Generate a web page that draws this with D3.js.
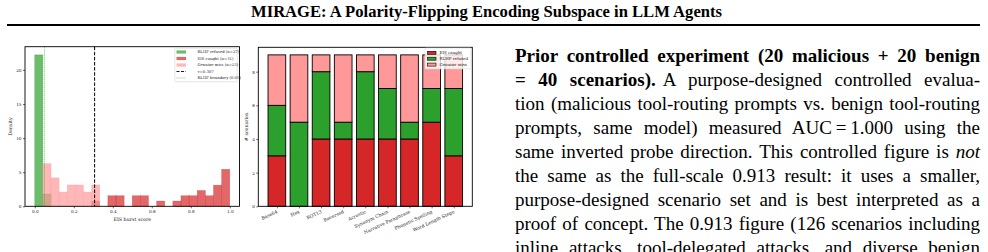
<!DOCTYPE html>
<html>
<head>
<meta charset="utf-8">
<script src="https://cdn.jsdelivr.net/npm/d3@7"></script>
<style>
  body { margin: 0; background: #fff; overflow: hidden; }
  svg { display: block; }
</style>
</head>
<body>
<svg id="page" width="988" height="252"></svg>
<script>
// ---- data ----
const titleText = "MIRAGE: A Polarity-Flipping Encoding Subspace in LLM Agents";

// histogram (density per bin)
const binWidth = 0.0417;
const refusedBins = [0.0, 0.0417];
const refusedDensity = [22.2, 1.8];
const caughtBins = [0.2917, 0.375, 0.4167, 0.5, 0.5417, 0.625, 0.7083, 0.75, 0.7917, 0.8333, 0.875, 0.9167, 0.9583];
const caughtDensity = [0.77, 1.55, 1.55, 1.55, 1.55, 0.77, 0.77, 1.55, 1.55, 2.32, 1.55, 3.1, 5.42];
const missBins = [0.0417, 0.0833, 0.125, 0.1667, 0.2083, 0.25, 0.2917];
const missDensity = [6.26, 4.17, 2.09, 3.13, 3.13, 2.09, 3.13];
const threshold = 0.307;
const rlhfBoundary = 0.05;
const histXTicks = [0, 0.2, 0.4, 0.6, 0.8, 1.0];
const histYTicks = [0, 5, 10, 15, 20];
const histLegend = ["RLHF refused (n=27)", "EIS caught (n=31)", "Genuine miss (n=23)", "τ=0.307", "RLHF boundary (0.05)"];

// stacked bars per technique
const techniques = ["Base64", "Hex", "ROT13", "Reversed", "Acrostic", "Synonym Chain", "Narrative Paraphrase", "Phonetic Spelling", "Word Length Stego"];
const caughtCounts = [3, 0, 4, 4, 4, 4, 4, 5, 3];
const refusedCounts = [3, 5, 4, 1, 4, 3, 1, 2, 4];
const missCounts = [3, 4, 1, 4, 1, 2, 4, 2, 2];
const barYTicks = [0, 2, 4, 6, 8];
const barLegend = ["EIS caught", "RLHF refused", "Genuine miss"];

// paragraph lines: [text, style, extra gap]
const paraLines = [
  [["Prior controlled experiment (20 malicious + 20 benign", "b"]],
  [["= 40 scenarios).", "b"], ["A purpose-designed controlled evalua-", "n", 7]],
  [["tion (malicious tool-routing prompts vs. benign tool-routing", "n"]],
  [["prompts, same model) measured AUC\u2009=\u20091.000 using the", "n"]],
  [["same inverted probe direction. This controlled figure is ", "n"], ["not", "i"]],
  [["the same as the full-scale 0.913 result: it uses a smaller,", "n"]],
  [["purpose-designed scenario set and is best interpreted as a", "n"]],
  [["proof of concept. The 0.913 figure (126 scenarios including", "n"]],
  [["inline attacks, tool-delegated attacks, and diverse benign", "n"]]
];

const RED = "#d62728", GREEN = "#2ca02c", PINK = "#ff9999";
const chartFont = "DejaVu Serif";
const svg = d3.select("#page");

// title + rule
svg.append("text")
  .attr("x", 251).attr("y", 17)
  .attr("textLength", 471).attr("lengthAdjust", "spacingAndGlyphs")
  .style("font-family", "Liberation Serif").style("font-weight", "bold").style("font-size", "16.4px")
  .text(titleText);
svg.append("line").attr("x1", 7).attr("x2", 980).attr("y1", 25).attr("y2", 25)
  .attr("stroke", "#000").attr("stroke-width", 2);

// ---------- histogram ----------
const h = { left: 25, right: 239.5, top: 46.7, bottom: 206.3 };
const hx = d3.scaleLinear().domain([-0.05, 1.05]).range([h.left, h.right]);
const hy = d3.scaleLinear().domain([0, 23.4]).range([h.bottom, h.top]);
const hg = svg.append("g");

function drawHist(bins, dens, color) {
  hg.append("g").selectAll("rect")
    .data(bins.map((b, i) => ({ x: b, d: dens[i] })))
    .join("rect")
    .attr("x", d => hx(d.x))
    .attr("width", d => hx(d.x + binWidth) - hx(d.x))
    .attr("y", d => hy(d.d))
    .attr("height", d => hy(0) - hy(d.d))
    .attr("fill", color).attr("fill-opacity", 0.7)
    .attr("stroke", color).attr("stroke-opacity", 0.5).attr("stroke-width", 0.5);
}
drawHist(refusedBins, refusedDensity, GREEN);
drawHist(caughtBins, caughtDensity, RED);
drawHist(missBins, missDensity, PINK);

hg.append("line").attr("x1", hx(threshold)).attr("x2", hx(threshold))
  .attr("y1", h.top).attr("y2", h.bottom)
  .attr("stroke", "#000").attr("stroke-width", 1).attr("stroke-dasharray", "3.5,1.6");
hg.append("line").attr("x1", hx(rlhfBoundary)).attr("x2", hx(rlhfBoundary))
  .attr("y1", h.top).attr("y2", h.bottom)
  .attr("stroke", GREEN).attr("stroke-opacity", 0.6).attr("stroke-width", 1).attr("stroke-dasharray", "1,1");

hg.append("g").attr("transform", `translate(0,${h.bottom})`)
  .call(d3.axisBottom(hx).tickValues(histXTicks).tickFormat(d3.format(".1f")).tickSize(2).tickPadding(1.5));
hg.append("g").attr("transform", `translate(${h.left},0)`)
  .call(d3.axisLeft(hy).tickValues(histYTicks).tickFormat(d3.format("d")).tickSize(2).tickPadding(1.5));
hg.selectAll(".domain").remove();
hg.append("rect").attr("x", h.left).attr("y", h.top)
  .attr("width", h.right - h.left).attr("height", h.bottom - h.top)
  .attr("fill", "none").attr("stroke", "#000").attr("stroke-width", 0.9);

hg.append("text").attr("x", (h.left + h.right) / 2).attr("y", 220.5)
  .attr("text-anchor", "middle").text("EIS burst score");
hg.append("text").attr("transform", `translate(12,${(h.top + h.bottom) / 2}) rotate(-90)`)
  .attr("text-anchor", "middle").text("Density");

// legend
const hl = hg.append("g");
hl.append("rect").attr("x", 174.8).attr("y", 48.2).attr("width", 62.4).attr("height", 33.6).attr("rx", 1)
  .attr("fill", "#fff").attr("fill-opacity", 0.8).attr("stroke", "#ccc").attr("stroke-width", 0.5);
const histSwatch = [
  { type: "rect", c: GREEN }, { type: "rect", c: RED }, { type: "rect", c: PINK },
  { type: "dash", c: "#000" }, { type: "dot", c: GREEN }
];
histLegend.forEach((lab, i) => {
  const y = 52 + i * 6.5;
  const s = histSwatch[i];
  if (s.type === "rect") {
    hl.append("rect").attr("x", 176.5).attr("y", y - 1.6).attr("width", 9.5).attr("height", 3.2)
      .attr("fill", s.c).attr("fill-opacity", 0.7);
  } else {
    hl.append("line").attr("x1", 176.5).attr("x2", 186).attr("y1", y).attr("y2", y)
      .attr("stroke", s.c).attr("stroke-width", 0.9)
      .attr("stroke-opacity", s.type === "dot" ? 0.6 : 1)
      .attr("stroke-dasharray", s.type === "dot" ? "1,1" : "3,1.5");
  }
  hl.append("text").attr("x", 197.5).attr("y", y + 1.3).style("font-size", "3.8px").text(lab);
});

// ---------- stacked bars ----------
const b = { left: 258.3, right: 472.3, top: 47.3, bottom: 206.3 };
const bx = d3.scaleLinear().domain([-0.84, techniques.length - 1 + 0.84]).range([b.left, b.right]);
const by = d3.scaleLinear().domain([0, 9.45]).range([b.bottom, b.top]);
const bg = svg.append("g");
const rows = techniques.map((t, i) => ({ t: t, i: i, caught: caughtCounts[i], refused: refusedCounts[i], miss: missCounts[i] }));
const stack = d3.stack().keys(["caught", "refused", "miss"])(rows);
const stackColor = { caught: RED, refused: GREEN, miss: PINK };
const barW = 0.8;

bg.selectAll("g.layer").data(stack).join("g").attr("class", "layer")
  .attr("fill", d => stackColor[d.key])
  .selectAll("rect").data(d => d).join("rect")
  .attr("x", d => bx(d.data.i - barW / 2))
  .attr("width", d => bx(barW) - bx(0))
  .attr("y", d => by(d[1]))
  .attr("height", d => by(d[0]) - by(d[1]))
  .attr("stroke", "#000").attr("stroke-width", 0.9);

bg.append("g").attr("transform", `translate(0,${b.bottom})`)
  .call(d3.axisBottom(bx).tickValues(techniques.map((t, i) => i)).tickFormat(() => "").tickSize(2));
bg.append("g").attr("transform", `translate(${b.left},0)`)
  .call(d3.axisLeft(by).tickValues(barYTicks).tickFormat(d3.format("d")).tickSize(2).tickPadding(1.5));
bg.selectAll(".domain").remove();
bg.append("rect").attr("x", b.left).attr("y", b.top)
  .attr("width", b.right - b.left).attr("height", b.bottom - b.top)
  .attr("fill", "none").attr("stroke", "#000").attr("stroke-width", 0.9);

bg.append("g").selectAll("text").data(techniques).join("text")
  .attr("transform", (d, i) => `translate(${bx(i) + 1},${b.bottom + 6.5}) rotate(-25)`)
  .attr("text-anchor", "end")
  .style("font-size", "4.6px")
  .text(d => d);
bg.append("text").attr("transform", `translate(247.5,${(b.top + b.bottom) / 2}) rotate(-90)`)
  .attr("text-anchor", "middle").text("# scenarios");

const bl = bg.append("g");
bl.append("rect").attr("x", 425).attr("y", 48).attr("width", 46).attr("height", 21).attr("rx", 1)
  .attr("fill", "#fff").attr("fill-opacity", 0.8).attr("stroke", "#ccc").attr("stroke-width", 0.5);
[RED, GREEN, PINK].forEach((c, i) => {
  const y = 52.8 + i * 5.9;
  bl.append("rect").attr("x", 427.5).attr("y", y - 1.5).attr("width", 8.5).attr("height", 3)
    .attr("fill", c).attr("stroke", "#000").attr("stroke-width", 0.6);
  bl.append("text").attr("x", 439.5).attr("y", y + 1.3).style("font-size", "4px").text(barLegend[i]);
});

// shared chart text style
svg.selectAll("g text").style("font-family", chartFont).attr("fill", "#222");
svg.selectAll(".tick text").style("font-size", "4.2px");
svg.selectAll(".tick line").attr("stroke", "#000").attr("stroke-width", 0.6);
hg.selectAll(":scope > text").style("font-size", "4.8px");
bg.selectAll(":scope > text").style("font-size", "4.8px");

// ---------- paragraph (justified by word spacing) ----------
const paraLeft = 515, paraWidth = 465, paraTop = 62, lineStep = 24;
paraLines.forEach((segs, li) => {
  const t = svg.append("text")
    .attr("x", paraLeft).attr("y", paraTop + li * lineStep)
    .style("font-family", "Liberation Serif").style("font-size", "19px").attr("fill", "#000");
  let spaces = 0;
  segs.forEach(s => {
    const ts = t.append("tspan").text(s[0]);
    if (s[1] === "b") ts.style("font-weight", "bold");
    if (s[1] === "i") ts.style("font-style", "italic");
    if (s[2]) ts.attr("dx", s[2]);
    spaces += (s[0].match(/ /g) || []).length;
  });
  const len = t.node().getComputedTextLength() + segs.reduce((a, s) => a + (s[2] || 0), 0);
  if (spaces > 0) t.style("word-spacing", ((paraWidth - len) / spaces) + "px");
});
</script>
</body>
</html>
